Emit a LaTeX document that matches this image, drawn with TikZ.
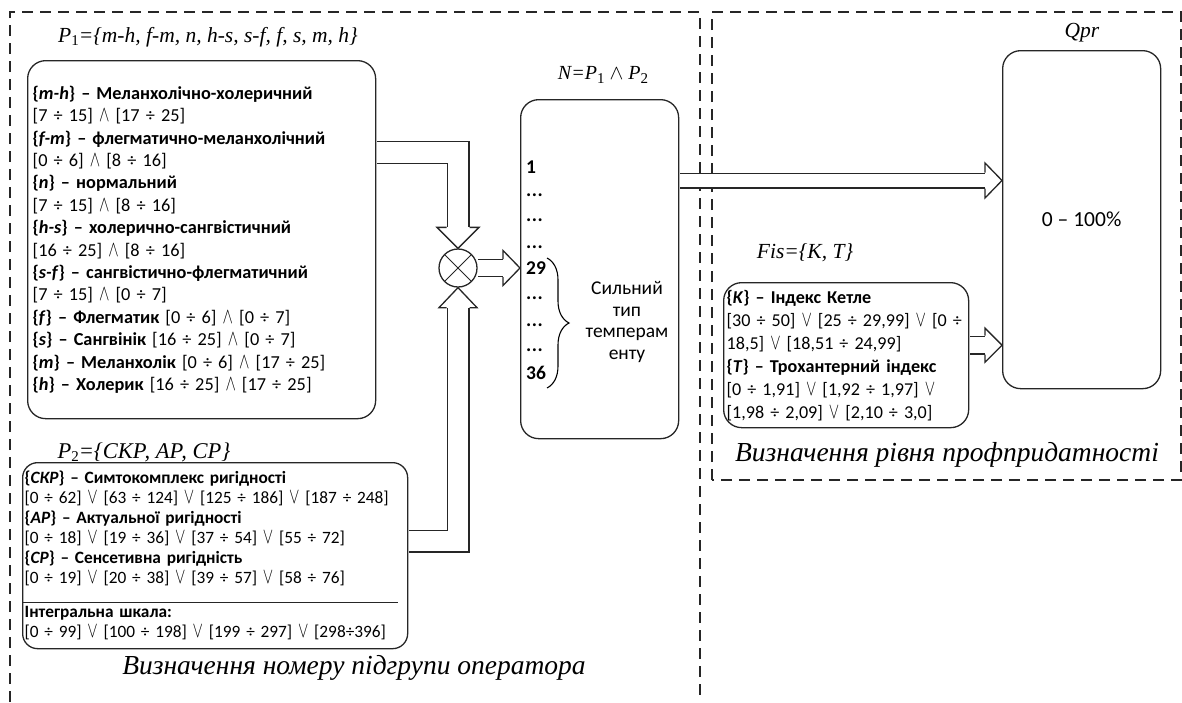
\documentclass[tikz,border=0pt]{standalone}
\usepackage{fontspec}
\setmainfont{Carlito}
\newfontfamily\lserif{Liberation Serif}
\usepackage{tikz}
\usetikzlibrary{calc,decorations.pathreplacing}

\newcommand{\andsym}{\scalebox{0.9}[1.3]{$\wedge$}}
\newcommand{\orsym}{\scalebox{0.9}[1.3]{$\vee$}}
\newcommand{\lowsub}[1]{\raisebox{-0.35ex}{\upshape\fontsize{15}{15}\selectfont #1}}
\newcommand{\skipdots}{.\kern0.5pt.\kern0.5pt.}

\tikzset{
  pics/blockhead/.style n args={3}{code={
    \draw[line width=1.3pt, draw=black!85, fill=white, line join=miter]
      (-#3,#1) -- (-#3,#2) -- (0,0) -- (-#3,-#2) -- (-#3,-#1);
  }}
}

\begin{document}
\begin{tikzpicture}[x=1pt,y=-1pt,
    box/.style={draw=black!85, line width=1.3pt, rounded corners=18pt, align=left, inner ysep=0pt},
    region/.style={draw=black!85, line width=1.2pt, dash pattern=on 11pt off 7pt},
    hollow/.style={draw=black!85, line width=#1, line join=miter, postaction={draw=white, line width=#1-2.6pt}},
    label/.style={font=\lserif\itshape\fontsize{21.5}{21.5}\selectfont},
    caption/.style={font=\lserif\itshape\fontsize{27.5}{27.5}\selectfont}]
    \useasboundingbox (0,0) rectangle (1182,702);

    % Dashed regions
    \draw[region] (10,702) -- (10,12) -- (700,12) -- (700,702);
    \draw[region] (712,480) -- (712,12) -- (1181,12) -- (1181,480) -- cycle;

    % Temperament set
    \node[label] (p1lab) at (208,37) {P\lowsub{1}=\{m-h, f-m, n, h-s, s-f, f, s, m, h\}};
    \node[box, anchor=north west, text width=338, inner xsep=5, minimum height=358,
          font=\fontsize{18.3}{22.4}\selectfont] (p1) at (27,60) {%
      \textbf{\{\textit{m-h}\} – Меланхолічно-холеричний}\\
      {[}7 ÷ 15] \andsym{} [17 ÷ 25]\\
      \textbf{\{\textit{f-m}\} – флегматично-меланхолічний}\\
      {[}0 ÷ 6] \andsym{} [8 ÷ 16]\\
      \textbf{\{\textit{n}\} – нормальний}\\
      {[}7 ÷ 15] \andsym{} [8 ÷ 16]\\
      \textbf{\{\textit{h-s}\} – холерично-сангвістичний}\\
      {[}16 ÷ 25] \andsym{} [8 ÷ 16]\\
      \textbf{\{\textit{s-f}\} – сангвістично-флегматичний}\\
      {[}7 ÷ 15] \andsym{} [0 ÷ 7]\\
      \textbf{\{\textit{f}\} – Флегматик} [0 ÷ 6] \andsym{} [0 ÷ 7]\\
      \textbf{\{\textit{s}\} – Сангвінік} [16 ÷ 25] \andsym{} [0 ÷ 7]\\
      \textbf{\{\textit{m}\} – Меланхолік} [0 ÷ 6] \andsym{} [17 ÷ 25]\\
      \textbf{\{\textit{h}\} – Холерик} [16 ÷ 25] \andsym{} [17 ÷ 25]};

    % Rigidity set
    \node[label, font=\lserif\itshape\fontsize{22.5}{22.5}\selectfont] (p2lab) at (144,452) {P\lowsub{2}=\{СКР, АР, СР\}};
    \node[box, rounded corners=15pt, anchor=north west, text width=381, inner xsep=2, minimum height=186,
          font=\fontsize{17.3}{20}\selectfont] (p2) at (22,462) {%
      \textbf{\{\textit{СКР}\} – Симтокомплекс ригідності}\\
      \mbox{[0 ÷ 62] \orsym{} [63 ÷ 124] \orsym{} [125 ÷ 186] \orsym{} [187 ÷ 248]}\\
      \textbf{\{\textit{АР}\} – Актуальної ригідності}\\
      \mbox{[0 ÷ 18] \orsym{} [19 ÷ 36] \orsym{} [37 ÷ 54] \orsym{} [55 ÷ 72]}\\
      \textbf{\{\textit{СР}\} – Сенсетивна ригідність}\\
      \mbox{[0 ÷ 19] \orsym{} [20 ÷ 38] \orsym{} [39 ÷ 57] \orsym{} [58 ÷ 76]}\\[14pt]
      \textbf{Інтегральна шкала:}\\
      \mbox{[0 ÷ 99] \orsym{} [100 ÷ 198] \orsym{} [199 ÷ 297] \orsym{} [298÷396]}};
    \draw[line width=1.2pt, draw=black!85] ($(p2.south west)+(0,-47)$) -- ($(p2.south east)+(-10,-47)$);

    \node[caption] (cap1) at (354,668) {Визначення номеру підгрупи оператора};

    % Combining node
    \node[circle, draw=black!85, line width=1.3pt, minimum size=38, inner sep=0,
          path picture={\draw[line width=1pt] (path picture bounding box.north west) -- (path picture bounding box.south east)
                        (path picture bounding box.north east) -- (path picture bounding box.south west);}] (mix) at (458,268) {};

    % Subgroup numbers
    \node[label, font=\lserif\itshape\fontsize{20}{20}\selectfont] (nlab) at (603,75) {N=P\lowsub{1} $\wedge$ P\lowsub{2}};
    \node[box, anchor=north west, minimum width=158, minimum height=339] (nbox) at (520,99) {};
    \foreach \y/\t in {167/1, 195/\skipdots, 220/\skipdots, 247/\skipdots, 268/29, 298/\skipdots, 325/\skipdots, 350/\skipdots, 373/36}
        \node[anchor=west, inner sep=0, font=\bfseries\fontsize{19.5}{19.5}\selectfont] at (526,\y) {\t};
    \draw[line width=1.1pt, decorate, decoration={brace, amplitude=22pt}] (547,258) -- (547,388);
    \node[align=center, font=\fontsize{19.5}{21.7}\selectfont] (strong) at (627,322) {Сильний\\тип\\темперам\\енту};

    % Physical set
    \node[label] (fislab) at (805,253) {Fis=\{K, T\}};
    \node[box, anchor=north west, text width=239, inner xsep=3, minimum height=145,
          font=\fontsize{18.1}{23}\selectfont] (fis) at (723,282) {%
      \textbf{\{\textit{K}\} – Індекс Кетле}\\
      \mbox{[30 ÷ 50] \orsym{} [25 ÷ 29,99] \orsym{} [0 ÷}\\
      \mbox{18,5] \orsym{} [18,51 ÷ 24,99]}\\
      \textbf{\{\textit{T}\} – Трохантерний індекс}\\
      \mbox{[0 ÷ 1,91] \orsym{} [1,92 ÷ 1,97] \orsym{}}\\
      \mbox{[1,98 ÷ 2,09] \orsym{} [2,10 ÷ 3,0]}};

    % Professional suitability
    \node[label] (qlab) at (1082,33) {Qpr};
    \node[box, anchor=north west, minimum width=158, minimum height=338, align=center,
          font=\fontsize{21.5}{21.5}\selectfont] (qpr) at (1002,50) {0 – 100\%};

    \node[caption] (cap2) at (947,455) {Визначення рівня профпридатності};

    % Hollow arrows
    \draw[hollow=23pt] ($(p1.north east)+(0.7,92.5)$) -| ($(mix.north)+(0,-21)$);
    \pic[rotate=-90] at (mix.north) {blockhead={11.5}{21}{21}};
    \draw[hollow=23pt] ($(p2.north east)+(0.7,79)$) -| ($(mix.south)+(0,20)$);
    \pic[rotate=90] at (mix.south) {blockhead={11.5}{19}{20}};
    \draw[hollow=18pt] ($(mix.east)+(0.7,0)$) -- ($(nbox.west |- mix.east)+(-17,0)$);
    \pic at (nbox.west |- mix.east) {blockhead={9}{17.5}{17}};
    \coordinate (n2q) at ($(nbox.north east)+(0,81.5)$);
    \draw[hollow=16pt] ($(n2q)+(0.7,0)$) -- ($(qpr.west |- n2q)+(-17,0)$);
    \pic at (qpr.west |- n2q) {blockhead={8}{17.5}{17}};
    \coordinate (f2q) at ($(fis.east)+(0,-10)$);
    \draw[hollow=19pt] ($(f2q)+(0.7,0)$) -- ($(qpr.west |- f2q)+(-17,0)$);
    \pic at (qpr.west |- f2q) {blockhead={9.5}{17}{17}};
\end{tikzpicture}
\end{document}
